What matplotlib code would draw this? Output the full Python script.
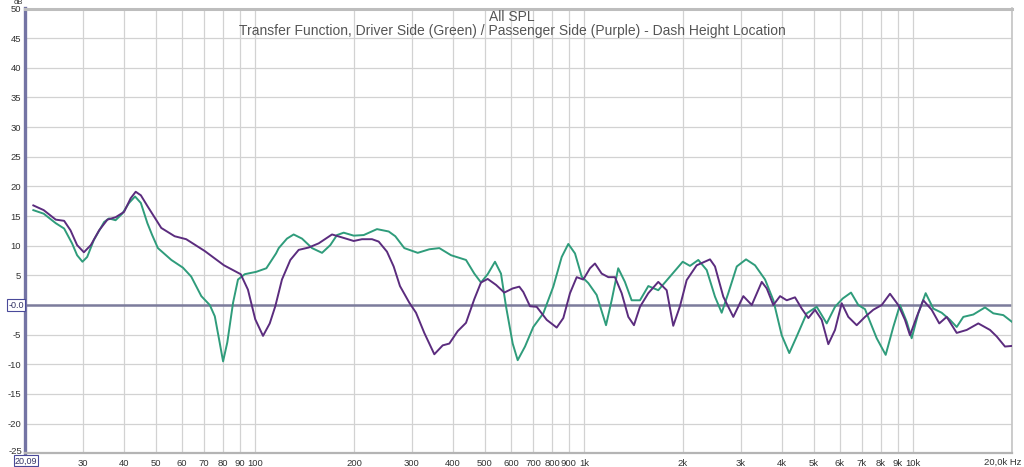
import matplotlib.pyplot as plt
from matplotlib.ticker import FixedLocator, NullLocator

plt.rcParams['font.family'] = ['Liberation Sans', 'DejaVu Sans']

# Driver side (green) - frequency in Hz, level in dB
freq_green = [21.2, 22.8, 24.8, 26.3, 27.8, 28.8, 29.9, 30.9, 32.4, 34.8, 36.0, 37.7,
              39.5, 41.4, 43.2, 45.0, 47.1, 48.7, 50.7, 55.7, 60.4, 64.0, 68.7, 72.9,
              75.5, 78.1, 80.0, 82.4, 85.8, 88.8, 93.1, 100.9, 108.3, 115.9, 118.1, 125.1,
              131.1, 139.0, 149.1, 159.9, 169.4, 177.6, 186.1, 199.6, 214.1, 234.9, 255.0,
              267.0, 284.4, 312.4, 338.8, 363.4, 394.4, 438.0, 464.2, 486.4, 509.8, 536.5,
              559.5, 579.4, 607.3, 628.9, 661.9, 701.4, 752.4, 806.9, 855.7, 896.2, 939.2,
              984.2, 1031, 1093, 1167, 1214, 1271, 1332, 1396, 1480, 1569, 1682, 1826,
              1996, 2100, 2226, 2361, 2502, 2622, 2746, 2914, 3109, 3311, 3552, 3764, 3991,
              4208, 4432, 4754, 5099, 5468, 5795, 6116, 6482, 6821, 7149, 7758, 8262, 8714,
              9130, 9570, 9910, 10378, 10930, 11530, 12226, 12958, 13582, 14226, 15256,
              16558, 17548, 18818, 19958]
db_green = [16.0, 15.4, 13.8, 12.9, 10.4, 8.4, 7.3, 8.1, 11.0, 14.0, 14.6, 14.3,
            15.4, 17.2, 18.3, 17.2, 13.8, 11.8, 9.6, 7.6, 6.3, 4.8, 1.5, 0.0,
            -1.9, -6.3, -9.5, -6.3, 0.4, 4.3, 5.2, 5.6, 6.2, 8.7, 9.6, 11.2,
            11.9, 11.2, 9.6, 8.8, 10.1, 11.8, 12.2, 11.7, 11.8, 12.8, 12.4,
            11.6, 9.6, 8.8, 9.4, 9.6, 8.4, 7.6, 5.3, 3.8, 5.2, 7.3,
            5.3, -0.2, -6.5, -9.3, -7.0, -3.7, -1.4, 3.1, 8.1, 10.3, 8.7,
            4.8, 3.7, 1.7, -3.4, 0.8, 6.2, 3.9, 0.8, 0.8, 3.2, 2.5, 4.8,
            7.3, 6.6, 7.6, 5.9, 1.4, -1.3, 2.0, 6.5, 7.7, 6.7, 4.3, 0.8, -5.1,
            -8.1, -5.3, -1.4, -0.3, -3.1, -0.3, 1.1, 2.1, 0.0, -0.7, -5.6, -8.4, -3.7,
            0.0, -2.8, -5.6, -1.4, 2.0, -0.6, -1.3, -2.5, -3.7, -2.0, -1.6,
            -0.4, -1.4, -1.7, -2.8]

# Passenger side (purple)
freq_purple = [21.2, 22.8, 24.8, 26.3, 27.5, 28.8, 30.2, 31.7, 33.6, 35.6, 37.7, 40.0,
               41.9, 43.4, 45.0, 47.1, 51.9, 57.0, 61.8, 70.4, 80.5, 90.5, 95.2, 100.2,
               105.8, 110.9, 115.3, 120.8, 128.1, 135.8, 145.7, 156.2, 171.5, 183.9, 199.6,
               211.5, 226.9, 237.7, 251.9, 264.0, 275.9, 294.5, 308.7, 327.1, 350.9, 372.1,
               389.7, 413.3, 438.0, 464.2, 486.4, 509.8, 540.3, 572.6, 607.3, 636.0, 654.1,
               685.5, 718.3, 770.6, 826.3, 865.4, 906.9, 950.4, 995.3, 1043, 1080, 1132,
               1186, 1242, 1302, 1364, 1419, 1480, 1569, 1682, 1784, 1868, 1958, 2052,
               2201, 2416, 2502, 2652, 2844, 3051, 3236, 3471, 3594, 3764, 3945, 4134,
               4380, 4590, 4808, 5039, 5280, 5530, 5795, 6073, 6360, 6745, 7149, 7576,
               8035, 8515, 9024, 9457, 9794, 10264, 10749, 11400, 12022, 12662, 13582,
               14568, 15798, 17148, 17970, 19042, 19958]
db_purple = [16.8, 16.0, 14.4, 14.2, 12.6, 10.1, 8.9, 10.1, 12.6, 14.4, 14.8, 15.7,
             18.0, 19.1, 18.5, 16.7, 13.0, 11.6, 11.1, 9.1, 6.7, 5.2, 2.6, -2.4,
             -5.2, -3.1, -0.2, 4.3, 7.6, 9.3, 9.7, 10.4, 11.9, 11.4, 10.8,
             11.1, 11.1, 10.7, 9.0, 6.5, 3.2, 0.4, -1.3, -4.7, -8.3, -6.8,
             -6.5, -4.4, -3.0, 1.0, 3.8, 4.4, 3.4, 2.1, 2.8, 3.1, 2.2,
             -0.2, -0.3, -2.5, -3.8, -2.2, 2.0, 4.7, 4.3, 6.2, 7.0, 5.3,
             4.7, 4.7, 2.0, -2.0, -3.4, -0.3, 2.0, 3.9, 2.5, -3.5, -0.2, 4.2,
             6.7, 7.7, 6.5, 1.4, -2.0, 1.5, 0.0, 3.9, 2.8, 0.0, 1.5, 0.8,
             1.3, -0.6, -2.2, -0.8, -2.5, -6.6, -4.2, 0.3, -2.0, -3.4, -2.0, -0.8,
             0.0, 1.9, 0.0, -2.5, -5.1, -2.0, 0.8, -0.8, -3.1, -2.0, -4.7,
             -4.2, -3.1, -4.2, -5.3, -7.0, -6.9]

x_ticks = [30, 40, 50, 60, 70, 80, 90, 100, 200, 300, 400, 500, 600, 700, 800, 900,
           1000, 2000, 3000, 4000, 5000, 6000, 7000, 8000, 9000, 10000, 20000]
x_labels = ['30', '40', '50', '60', '70', '80', '90', '100', '200', '300', '400', '500',
            '600', '700', '800', '900', '1k', '2k', '3k', '4k', '5k', '6k', '7k', '8k',
            '9k', '10k', '']
y_ticks = list(range(-25, 51, 5))
y_labels = ['' if v in (0, -25) else str(v) for v in y_ticks]

fig = plt.figure(figsize=(10.24, 4.67), dpi=100)
ax = fig.add_axes([25 / 1024, 13.7 / 467, 987 / 1024, 444.8 / 467])
ax.set_xscale('log')
ax.set_xlim(20, 20000)
ax.set_ylim(-25, 50)

ax.xaxis.set_major_locator(FixedLocator(x_ticks))
ax.xaxis.set_minor_locator(NullLocator())
ax.set_xticklabels(x_labels)
ax.set_yticks(y_ticks)
ax.set_yticklabels(y_labels)
ax.tick_params(length=0, labelsize=6.8, colors='#333333')
ax.tick_params(axis='x', pad=4)
ax.tick_params(axis='y', pad=3)
ax.grid(True, color='#d2d2d2', lw=0.9)
ax.set_axisbelow(True)

ax.spines['left'].set_color('#7474a4')
ax.spines['left'].set_linewidth(2.4)
ax.spines['top'].set_color('#bdbdbd')
ax.spines['top'].set_linewidth(2.2)
ax.spines['bottom'].set_color('#b4b4b4')
ax.spines['bottom'].set_linewidth(1.6)
ax.spines['right'].set_color('#c4c4c4')
ax.spines['right'].set_linewidth(1.2)

ax.axhline(0, color='#7c7c9c', lw=1.8, zorder=1.5)

ax.plot(freq_green, db_green, color='#2f9c7b', lw=1.4, zorder=3)
ax.plot(freq_purple, db_purple, color='#5b2c7e', lw=1.4, zorder=4)

# REW style labels
ax.text(-0.001, 0, '-0.0', transform=ax.get_yaxis_transform(), ha='right', va='center',
        fontsize=6.5, color='#333366',
        bbox=dict(boxstyle='square,pad=0.12', fc='white', ec='#4a4a9a', lw=0.8))
fig.text(22 / 1024, 1 - 452 / 467, '-25', ha='right', va='center', fontsize=6.8,
         color='#333333')
ax.text(0.001, -0.017, '20,09', transform=ax.transAxes, ha='center', va='center',
        fontsize=6.5, color='#333366', zorder=10,
        bbox=dict(boxstyle='square,pad=0.12', fc='white', ec='#4a4a9a', lw=0.8))
fig.text(1021 / 1024, 1 - 462 / 467, '20,0k Hz', ha='right', va='center', fontsize=6.8,
         color='#333333')
fig.text(18.5 / 1024, 1 - 3 / 467, 'dB', ha='center', va='center', fontsize=5.5,
         color='#333333')

fig.text(512 / 1024, 1 - 17 / 467, 'All SPL', ha='center', va='center', fontsize=10,
         color='#555555')
fig.text(512 / 1024, 1 - 31 / 467,
         'Transfer Function, Driver Side (Green) / Passenger Side (Purple) - Dash Height Location',
         ha='center', va='center', fontsize=10, color='#555555')

fig.savefig('out.png', dpi=100)
